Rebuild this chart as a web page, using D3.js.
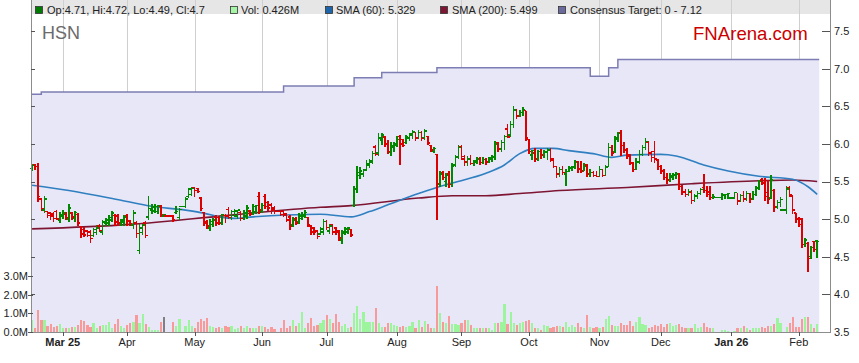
<!DOCTYPE html>
<html>
<head>
<meta charset="utf-8">
<title>HSN price chart</title>
<script src="https://cdn.jsdelivr.net/npm/d3@7"></script>
<style>
  body { margin: 0; background: #fff; }
  svg { display: block; font-family: "Liberation Sans", Arial, sans-serif; }
</style>
</head>
<body>
<svg id="chart" width="859" height="363"></svg>
<script>
// daily bars, one slot per weekday from 17 Feb 2025 to 10 Feb 2026 (null = ASX holiday)
var opens = [
  5.67,5.72,5.70,5.27,5.12,5.10,5.08,5.07,5.10,4.99,
  5.04,5.07,5.00,5.08,5.01,5.06,4.90,4.86,4.84,4.83,
  4.78,4.82,4.91,4.83,4.94,4.95,4.99,5.05,5.04,4.94,
  4.96,5.04,4.98,4.92,4.95,4.58,4.82,4.95,5.03,5.12,
  5.11,5.10,5.17,5.04,null,null,5.04,5.09,5.02,null,
  5.17,5.30,5.33,5.42,5.41,5.28,5.09,4.97,4.88,4.93,
  5.03,5.02,4.95,5.05,5.13,5.02,5.05,5.04,5.09,5.01,
  5.04,5.11,5.08,5.10,5.30,5.11,5.30,5.22,5.19,5.15,
  null,5.10,5.10,5.07,5.03,4.92,5.01,4.96,5.01,5.04,
  5.02,4.91,4.88,4.84,4.80,4.83,4.97,4.84,4.93,4.88,
  4.84,4.72,4.81,4.83,4.86,5.18,5.40,5.58,5.60,5.66,
  5.72,5.76,5.96,5.88,6.05,6.09,6.00,5.89,5.95,5.98,
  6.10,6.06,6.02,6.08,6.12,6.15,6.08,6.15,6.08,6.10,
  5.98,5.90,5.86,5.46,5.62,5.50,5.60,5.46,5.72,5.83,
  5.96,5.80,5.76,5.80,5.74,5.76,5.80,5.75,5.79,5.76,
  5.80,5.82,6.02,5.93,6.02,6.20,6.12,6.26,6.45,6.38,
  6.42,6.44,6.06,5.85,5.88,5.80,5.90,5.85,5.89,5.92,
  5.78,5.70,5.59,5.66,5.60,5.63,5.68,5.70,5.76,5.67,
  5.64,5.72,5.60,5.62,5.58,5.57,5.66,5.58,5.70,5.95,
  5.90,6.08,6.15,5.98,5.92,5.84,5.74,5.66,5.76,5.86,
  5.95,6.02,5.88,5.90,5.78,5.70,5.64,5.55,5.52,5.56,
  5.58,5.60,5.43,5.36,5.33,5.36,5.25,5.30,5.34,5.42,
  5.38,5.36,5.29,null,null,5.29,5.31,5.33,null,5.28,
  5.35,5.25,5.31,5.27,5.34,5.27,5.33,5.42,5.52,5.48,
  5.35,5.28,5.38,5.16,5.22,null,5.12,5.42,5.30,5.08,
  5.00,5.00,4.66,4.68,4.50,4.70,4.71
];
var highs = [
  5.73,5.73,5.74,5.28,5.31,5.11,5.10,5.09,5.12,5.09,
  5.12,5.09,5.20,5.10,5.11,5.08,4.91,4.89,4.86,4.85,
  4.88,4.92,4.93,4.99,5.01,5.06,5.11,5.07,5.07,5.00,
  5.06,5.07,4.99,5.12,4.97,4.93,4.94,4.97,5.31,5.20,
  5.20,5.19,5.19,5.07,null,null,5.05,5.18,5.15,null,
  5.30,5.42,5.43,5.43,5.41,5.30,5.10,4.99,5.00,5.02,
  5.05,5.04,5.07,5.07,5.16,5.12,5.14,5.12,5.11,5.12,
  5.19,5.12,5.20,5.19,5.36,5.21,5.33,5.24,5.21,5.17,
  null,5.12,5.12,5.08,5.05,5.03,5.03,5.08,5.09,5.12,
  5.03,4.92,4.90,4.86,4.90,5.00,4.99,4.93,4.94,4.90,
  4.86,4.86,4.89,4.90,4.87,5.44,5.70,5.69,5.67,5.78,
  5.80,5.90,5.98,6.14,6.14,6.10,6.05,6.03,6.03,6.10,
  6.12,6.07,6.12,6.15,6.18,6.16,6.18,6.17,6.20,6.11,
  5.99,5.96,5.87,5.64,5.64,5.61,5.64,5.74,5.85,5.98,
  5.98,5.85,5.84,5.85,5.79,5.83,5.82,5.82,5.81,5.83,
  5.85,6.04,6.03,6.05,6.12,6.27,6.30,6.50,6.47,6.45,
  6.49,6.44,6.07,5.92,5.94,5.92,5.93,5.92,5.94,5.95,
  5.81,5.70,5.69,5.70,5.66,5.71,5.70,5.78,5.77,5.77,
  5.75,5.73,5.66,5.64,5.64,5.70,5.66,5.72,6.01,5.98,
  6.10,6.16,6.18,6.02,5.95,5.86,5.76,5.81,5.92,5.99,
  6.08,6.04,5.91,6.04,5.80,5.72,5.66,5.61,5.61,5.61,
  5.62,5.61,5.46,5.40,5.40,5.39,5.34,5.37,5.41,5.60,
  5.44,5.44,5.33,null,null,5.35,5.34,5.35,null,5.36,
  5.35,5.33,5.37,5.37,5.35,5.37,5.44,5.52,5.55,5.55,
  5.52,5.59,5.40,5.25,5.29,null,5.44,5.44,5.32,5.08,
  5.03,5.02,4.75,4.70,4.64,4.71,4.72
];
var lows = [
  5.65,5.66,5.23,5.12,5.09,5.02,5.00,4.97,4.99,4.95,
  5.01,4.99,4.97,5.00,4.97,4.91,4.75,4.77,4.77,4.69,
  4.77,4.79,4.83,4.80,4.92,4.92,4.97,4.92,4.91,4.92,
  4.92,4.92,4.91,4.88,4.76,4.54,4.79,4.75,5.00,5.08,
  5.09,5.08,5.04,5.03,null,null,4.97,5.07,5.00,null,
  5.15,5.29,5.31,5.30,5.36,5.11,4.92,4.87,4.85,4.90,
  4.92,4.93,4.93,4.96,5.01,5.00,5.03,5.01,4.98,4.99,
  5.01,5.05,5.06,5.08,5.08,5.09,5.14,5.12,5.08,5.08,
  null,5.05,5.03,4.97,4.86,4.90,4.93,4.94,4.99,5.02,
  4.90,4.79,4.79,4.74,4.79,4.80,4.86,4.81,4.80,4.79,
  4.71,4.68,4.79,4.81,4.77,5.17,5.36,5.54,5.57,5.65,
  5.69,5.74,5.84,5.85,5.99,5.96,5.87,5.85,5.90,5.96,
  5.72,5.96,6.00,6.05,6.07,6.05,6.07,6.05,6.06,5.99,
  5.90,5.89,4.99,5.43,5.52,5.43,5.42,5.43,5.70,5.81,
  5.79,5.71,5.71,5.72,5.71,5.74,5.72,5.74,5.73,5.75,
  5.77,5.79,5.90,5.90,5.92,6.08,6.10,6.22,6.34,6.36,
  6.38,6.05,5.87,5.79,5.76,5.78,5.80,5.82,5.79,5.76,
  5.68,5.55,5.56,5.59,5.45,5.63,5.64,5.67,5.62,5.62,
  5.64,5.56,5.56,5.56,5.56,5.56,5.56,5.58,5.70,5.85,
  5.88,6.03,5.85,5.88,5.81,5.72,5.63,5.66,5.74,5.84,
  5.93,5.84,5.77,5.75,5.66,5.61,5.52,5.48,5.50,5.52,
  5.54,5.39,5.33,5.30,5.32,5.21,5.24,5.28,5.33,5.36,
  5.30,5.26,5.27,null,null,5.26,5.27,5.27,null,5.27,
  5.19,5.24,5.24,5.25,5.22,5.26,5.31,5.39,5.46,5.25,
  5.21,5.28,5.10,5.14,5.17,null,5.08,5.30,5.08,4.96,
  4.90,4.62,4.63,4.30,4.48,4.57,4.49
];
var closes = [
  5.71,5.70,5.30,5.14,5.27,5.05,5.04,5.01,5.00,5.06,
  5.08,5.02,5.15,5.03,5.09,4.95,4.80,4.79,4.78,4.74,
  4.86,4.88,4.85,4.96,4.99,5.02,5.08,4.96,4.95,4.99,
  5.03,4.97,4.94,5.08,4.81,4.88,4.92,4.78,5.14,5.16,
  5.17,5.18,5.06,5.06,null,null,4.99,5.10,5.13,null,
  5.27,5.40,5.41,5.38,5.37,5.14,4.95,4.91,4.97,4.99,
  4.95,4.94,5.06,5.04,5.02,5.10,5.11,5.12,5.01,5.08,
  5.15,5.07,5.17,5.18,5.12,5.18,5.17,5.15,5.12,5.10,
  null,5.06,5.05,4.99,4.90,4.99,4.95,5.04,5.06,5.09,
  4.93,4.83,4.82,4.77,4.87,4.97,4.89,4.91,4.83,4.82,
  4.75,4.83,4.87,4.88,4.79,5.40,5.62,5.64,5.65,5.74,
  5.77,5.87,5.86,6.08,6.12,5.99,5.90,5.97,6.00,6.06,
  6.00,5.98,6.10,6.13,6.16,6.08,6.15,6.07,6.17,6.01,
  5.92,5.94,5.47,5.60,5.55,5.58,5.46,5.70,5.82,5.95,
  5.83,5.76,5.80,5.74,5.77,5.80,5.75,5.79,5.76,5.81,
  5.83,6.00,5.93,6.02,6.10,6.09,6.26,6.45,6.37,6.42,
  6.46,6.08,5.90,5.91,5.80,5.90,5.85,5.89,5.92,5.80,
  5.70,5.60,5.66,5.62,5.63,5.68,5.69,5.75,5.66,5.64,
  5.70,5.60,5.62,5.58,5.57,5.66,5.58,5.69,5.95,5.88,
  6.06,6.14,5.98,5.92,5.85,5.75,5.66,5.76,5.86,5.95,
  6.03,5.88,5.82,5.80,5.70,5.65,5.55,5.52,5.58,5.59,
  5.60,5.43,5.36,5.33,5.37,5.25,5.31,5.34,5.39,5.38,
  5.33,5.29,5.30,null,null,5.32,5.33,5.34,null,5.35,
  5.24,5.31,5.27,5.34,5.26,5.33,5.41,5.50,5.48,5.30,
  5.26,5.52,5.16,5.22,5.26,null,5.40,5.32,5.12,5.00,
  4.93,4.66,4.72,4.48,4.62,4.60,4.70
];
// volume in millions of shares
var volumes = [
  0.64,0.23,1.18,0.64,0.64,0.32,0.43,0.29,0.32,0.43,
  0.20,0.20,0.23,0.25,0.27,0.37,0.64,0.59,0.37,0.27,
  0.48,0.23,0.32,0.37,0.37,0.55,0.23,0.45,0.70,0.34,
  0.23,0.37,0.46,0.55,0.91,0.50,0.96,0.43,0.29,0.11,
  0.13,0.11,0.54,0.80,null,null,0.54,0.32,0.70,null,
  0.32,0.64,0.32,0.23,0.55,0.70,0.59,0.73,0.32,0.27,
  0.20,0.27,0.20,0.34,0.27,0.34,0.16,0.23,0.30,0.20,
  0.30,0.20,0.23,0.23,0.32,0.32,0.27,0.14,0.27,0.14,
  null,0.23,0.64,0.23,0.32,0.64,0.34,0.50,1.07,0.23,
  0.46,0.75,0.32,0.37,0.46,0.62,0.91,0.70,0.46,0.96,
  0.55,0.32,0.45,0.20,0.25,1.02,1.39,0.70,1.05,0.55,
  0.52,0.52,1.27,0.50,0.29,0.29,0.50,0.48,0.36,0.32,
  0.29,0.32,0.29,0.32,0.55,0.20,0.64,0.29,0.59,0.41,
  0.20,0.23,2.48,1.00,0.55,0.46,0.87,0.41,0.45,0.37,
  0.50,0.64,0.64,0.37,0.20,0.20,0.20,0.23,0.23,0.23,
  0.11,0.50,0.46,0.55,1.50,0.45,1.09,0.50,0.37,0.50,
  0.55,0.59,0.64,0.46,0.20,0.20,0.11,0.37,0.32,0.20,
  0.29,0.32,0.32,0.25,0.55,0.29,0.37,0.25,0.50,0.25,
  0.20,0.91,0.25,0.20,0.25,0.20,0.25,0.70,0.84,0.37,
  0.32,0.32,0.46,0.37,0.37,0.59,0.32,0.55,0.82,0.41,
  0.37,0.23,0.27,0.37,0.34,0.41,0.27,0.45,0.46,0.34,
  0.37,0.41,0.27,0.20,0.20,0.23,0.45,0.23,0.27,0.46,
  0.29,0.23,0.23,null,null,0.09,0.09,0.05,null,0.05,
  0.23,0.23,0.34,0.20,0.11,0.20,0.20,0.23,0.27,0.20,
  0.34,0.34,0.41,0.77,0.48,null,0.27,0.46,0.82,0.29,
  0.29,0.70,0.80,0.80,0.45,0.23,0.426
];

// moving averages and consensus target at sample days
var sma60Idx = [0,12,29,39,50,56,61,66,72,83,94,104,110,116,126,132,137,148,154,159,164,170,175,183,189,194,205,210,219,227,237,248,253,256];
var sma60Val = [5.45,5.38,5.25,5.17,5.12,5.08,5.03,5.01,5.03,5.055,5.065,5.03,5.10,5.19,5.34,5.42,5.48,5.61,5.72,5.87,5.94,5.94,5.91,5.87,5.82,5.85,5.86,5.84,5.72,5.64,5.57,5.53,5.43,5.33];
var sma200Idx = [0,32,64,94,104,126,137,148,159,172,194,215,237,248,256];
var sma200Val = [4.87,4.93,5.05,5.157,5.18,5.28,5.31,5.31,5.34,5.38,5.42,5.47,5.51,5.52,5.50];
var targetIdx = [0,3,82,105,114,132,182,188,191];
var targetVal = [6.66,6.69,6.77,6.88,6.95,7.01,6.90,7.01,7.12];

var monthIdx = [10,31,53,75,96,119,140,162,185,205,228,250];
var monthLabels = ["Mar 25","Apr","May","Jun","Jul","Aug","Sep","Oct","Nov","Dec","Jan 26","Feb"];
var priceTicks = [3.5,4.0,4.5,5.0,5.5,6.0,6.5,7.0,7.5];
var volTicks = [0,1,2,3];

var svg = d3.select("#chart"),
	left = 31, right = 830, top = 3, bottom = 332;

var x = d3.scaleLinear().domain([0, 256]).range([32.1, 817.2]);
var y = d3.scaleLinear().domain([3.5, 7.5]).range([332, 31]);
var yVol = d3.scaleLinear().domain([0, 3]).range([332, 275.9]);

// build bar records, colour by close against the previous close
var bars = [], prev = null;
closes.forEach(function(c, i) {
	if (c == null) return;
	var dir = prev == null ? (c >= opens[i] ? 1 : -1) : (c > prev.c ? 1 : (c < prev.c ? -1 : 0));
	bars.push({i: i, o: opens[i], h: highs[i], l: lows[i], c: c, v: volumes[i], dir: dir,
		gapFrom: (prev && prev.i < i - 1) ? prev.i : null});
	prev = {i: i, c: c};
});

// background, legend strip, month grid
svg.append("rect").attr("x", 0).attr("y", 0).attr("width", 859).attr("height", 363).attr("fill", "#fff");
svg.append("rect").attr("x", left).attr("y", top).attr("width", right - left).attr("height", 14).attr("fill", "#e6e6e6");

svg.append("g").selectAll("line").data(monthIdx).join("line")
	.attr("x1", function(d) { return Math.round(x(d)) + 0.5; })
	.attr("x2", function(d) { return Math.round(x(d)) + 0.5; })
	.attr("y1", top).attr("y2", bottom)
	.attr("stroke", "#cfcfcf").attr("stroke-width", 1);

// consensus target: shaded area below a step line
var tPts = targetIdx.map(function(t, k) { return {x: k === 0 ? left + 0.5 : x(t), v: targetVal[k]}; });
tPts.push({x: x(256) + 2, v: targetVal[targetVal.length - 1]});

svg.append("path").datum(tPts)
	.attr("fill", "#e7e7f7")
	.attr("d", d3.area().curve(d3.curveStepAfter)
		.x(function(d) { return d.x; }).y0(bottom).y1(function(d) { return y(d.v); }));

svg.append("path").datum(tPts)
	.attr("fill", "none").attr("stroke", "#7d7db3").attr("stroke-width", 1.5)
	.attr("d", d3.line().curve(d3.curveStepAfter)
		.x(function(d) { return d.x; }).y(function(d) { return y(d.v); }));

// volume
var volColor = function(d) { return d.dir > 0 ? "#9cf59c" : (d.dir < 0 ? "#f89a9a" : "#808080"); };
svg.append("g").selectAll("rect").data(bars).join("rect")
	.attr("x", function(d) { return x(d.i) - 1; })
	.attr("width", 2.2)
	.attr("y", function(d) { return yVol(d.v); })
	.attr("height", function(d) { return bottom - yVol(d.v); })
	.attr("fill", volColor)
	.attr("shape-rendering", "crispEdges");

// moving averages
function smaLine(idx, val, color) {
	svg.append("path").datum(idx.map(function(t, k) { return [t, val[k]]; }))
		.attr("fill", "none").attr("stroke", color).attr("stroke-width", 1.6)
		.attr("d", d3.line().curve(d3.curveMonotoneX)
			.x(function(d) { return x(d[0]); }).y(function(d) { return y(d[1]); }));
}
smaLine(sma200Idx, sma200Val, "#7e1633");
smaLine(sma60Idx, sma60Val, "#2f7fc1");

// OHLC bars
var barColor = function(d) { return d.dir < 0 ? "#dd0000" : "#008800"; };
var ohlc = svg.append("g").attr("shape-rendering", "crispEdges");
ohlc.selectAll("line.hl").data(bars).join("line").attr("class", "hl")
	.attr("x1", function(d) { return x(d.i); }).attr("x2", function(d) { return x(d.i); })
	.attr("y1", function(d) { return y(d.h); }).attr("y2", function(d) { return y(d.l) + 0.5; })
	.attr("stroke", barColor).attr("stroke-width", 1.6);
ohlc.selectAll("line.op").data(bars).join("line").attr("class", "op")
	.attr("x1", function(d) { return d.gapFrom != null ? x(d.gapFrom) : x(d.i) - 2.2; })
	.attr("x2", function(d) { return x(d.i); })
	.attr("y1", function(d) { return y(d.o); }).attr("y2", function(d) { return y(d.o); })
	.attr("stroke", barColor).attr("stroke-width", 1.4);
ohlc.selectAll("line.cl").data(bars).join("line").attr("class", "cl")
	.attr("x1", function(d) { return x(d.i); }).attr("x2", function(d) { return x(d.i) + 2.2; })
	.attr("y1", function(d) { return y(d.c); }).attr("y2", function(d) { return y(d.c); })
	.attr("stroke", barColor).attr("stroke-width", 1.4);

// frame and axes
var axisCol = "#8c8c8c";
svg.append("line").attr("x1", left + 0.5).attr("x2", left + 0.5).attr("y1", top).attr("y2", bottom).attr("stroke", axisCol);
svg.append("line").attr("x1", right + 0.5).attr("x2", right + 0.5).attr("y1", top).attr("y2", bottom).attr("stroke", axisCol);
svg.append("line").attr("x1", left).attr("x2", right + 1).attr("y1", bottom + 0.5).attr("y2", bottom + 0.5).attr("stroke", axisCol);

var fontSize = "11px";

// right price axis
svg.append("g").selectAll("line").data(priceTicks.slice(1)).join("line")
	.attr("x1", right - 8).attr("x2", right)
	.attr("y1", function(d) { return Math.round(y(d)) + 0.5; }).attr("y2", function(d) { return Math.round(y(d)) + 0.5; })
	.attr("stroke", "#555");
svg.append("g").selectAll("text").data(priceTicks).join("text")
	.attr("x", right + 4).attr("y", function(d) { return y(d); }).attr("dy", "0.36em")
	.attr("font-size", fontSize).attr("fill", "#222")
	.text(function(d) { return d.toFixed(1); });

// left axis: price ticks inside, volume labels outside
svg.append("g").selectAll("line").data(priceTicks.slice(1)).join("line")
	.attr("x1", left).attr("x2", left + 4)
	.attr("y1", function(d) { return Math.round(y(d)) + 0.5; }).attr("y2", function(d) { return Math.round(y(d)) + 0.5; })
	.attr("stroke", "#555");
svg.append("g").selectAll("line").data(volTicks).join("line")
	.attr("x1", left - 3).attr("x2", left + 2)
	.attr("y1", function(d) { return Math.round(yVol(d)) + 0.5; }).attr("y2", function(d) { return Math.round(yVol(d)) + 0.5; })
	.attr("stroke", "#555");
svg.append("g").selectAll("text").data(volTicks).join("text")
	.attr("x", left - 3).attr("y", function(d) { return yVol(d); }).attr("dy", "0.36em")
	.attr("text-anchor", "end").attr("font-size", fontSize).attr("fill", "#222")
	.text(function(d) { return d.toFixed(1) + "M"; });

// month axis
svg.append("g").selectAll("line").data(monthIdx).join("line")
	.attr("x1", function(d) { return Math.round(x(d)) + 0.5; }).attr("x2", function(d) { return Math.round(x(d)) + 0.5; })
	.attr("y1", bottom).attr("y2", bottom + 4)
	.attr("stroke", "#555");
svg.append("g").selectAll("text").data(monthIdx).join("text")
	.attr("x", function(d) { return x(d); }).attr("y", 346)
	.attr("text-anchor", "middle").attr("font-size", fontSize).attr("fill", "#222")
	.attr("font-weight", function(d, k) { return monthLabels[k].indexOf(" ") > 0 ? "bold" : "normal"; })
	.text(function(d, k) { return monthLabels[k]; });

// legend strip
var legend = [
	{sx: 35, tx: 47, fill: "#007a00", text: "Op:" + opens[256] + ", Hi:" + highs[256] + ", Lo:" + lows[256] + ", Cl:" + closes[256]},
	{sx: 230, tx: 241, fill: "#a6f5a6", text: "Vol: " + volumes[256].toFixed(3) + "M"},
	{sx: 325, tx: 336, fill: "#1d64a8", text: "SMA (60): 5.329"},
	{sx: 440, tx: 452, fill: "#7e1633", text: "SMA (200): 5.499"},
	{sx: 558, tx: 570, fill: "#6a6a9e", text: "Consensus Target: 0 - " + targetVal[targetVal.length - 1]}
];
var lg = svg.append("g").selectAll("g").data(legend).join("g");
lg.append("rect").attr("x", function(d) { return d.sx + 0.5; }).attr("y", 6.5).attr("width", 7).attr("height", 7)
	.attr("fill", function(d) { return d.fill; }).attr("stroke", "#333").attr("stroke-width", 0.8);
lg.append("text").attr("x", function(d) { return d.tx; }).attr("y", 14)
	.attr("font-size", fontSize).attr("fill", "#222")
	.text(function(d) { return d.text; });

// titles
svg.append("text").attr("x", 42).attr("y", 39).attr("font-size", "18px").attr("fill", "#6b6b6b").text("HSN");
svg.append("text").attr("x", 693).attr("y", 40).attr("font-size", "18.6px").attr("fill", "#cc0000").text("FNArena.com");
</script>
</body>
</html>
